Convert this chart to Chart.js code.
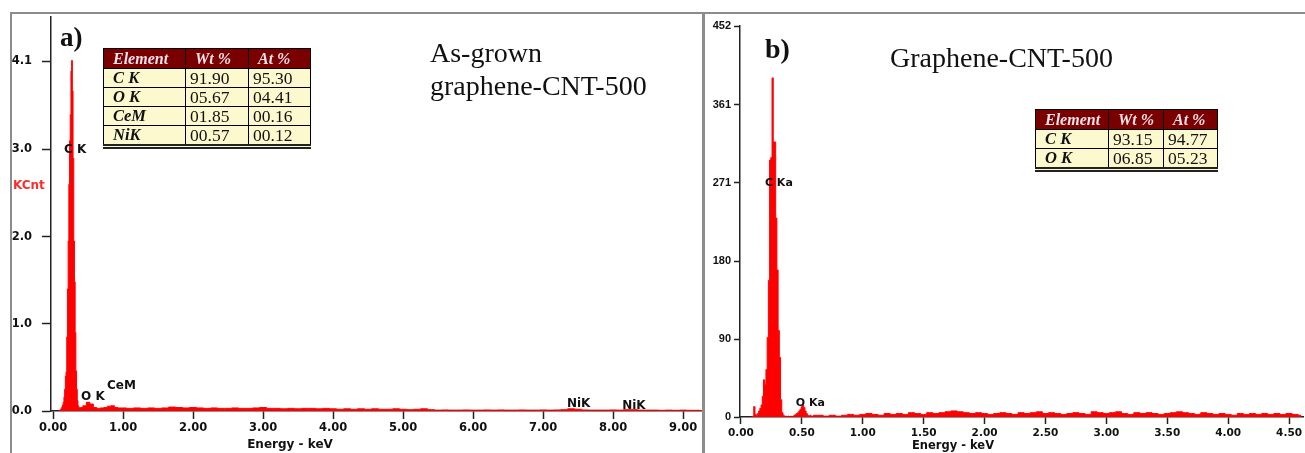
<!DOCTYPE html>
<html>
<head>
<meta charset="utf-8">
<script src="https://cdn.jsdelivr.net/npm/chart.js@4.4.1/dist/chart.umd.min.js"></script>
<style>
  body { margin:0; width:1305px; height:453px; background:#fff; position:relative; overflow:hidden; }
  canvas { position:absolute; top:0; }
  #chartA { left:0; }
  #chartB { left:703px; }
  .frame { position:absolute; border:0 solid #8c8c8c; }
  .txt { position:absolute; white-space:nowrap; }
  .serif { font-family:'Liberation Serif', 'Times New Roman', serif; color:#111; }
  .sans { font-family:'DejaVu Sans', sans-serif; font-weight:bold; }
  table.eds { position:absolute; border-collapse:collapse; table-layout:fixed; font-family:'Liberation Serif', serif; border:1px solid #000; border-bottom:5px double #222; }
  table.eds th { background:#7a0000; color:#f2e2ec; font-style:italic; font-weight:bold; font-size:16px; text-align:left; padding:0 0 0 9px; height:19px; line-height:19px; border:1px solid #000; }
  table.eds td { background:#fbf9cd; color:#111; font-size:17.5px; padding:0 0 0 4px; height:18px; line-height:18px; border:1px solid #000; }
  table.eds td.el { font-weight:bold; font-style:italic; font-size:16.5px; padding-left:9px; }
</style>
</head>
<body>
<canvas id="chartA" width="703" height="453"></canvas>
<canvas id="chartB" width="602" height="453"></canvas>

<div class="frame" style="left:10px;top:12px;width:692px;height:460px;border-top-width:2px;border-left-width:2px;"></div>
<div class="frame" style="left:702px;top:12px;width:610px;height:460px;border-top-width:2px;border-left-width:3px;"></div>

<div class="txt serif" style="left:60px;top:24px;font-size:27px;line-height:26px;font-weight:bold;">a)</div>
<div class="txt serif" style="left:430px;top:36px;font-size:28px;line-height:33px;">As-grown<br>graphene-CNT-500</div>
<div class="txt serif" style="left:765px;top:35px;font-size:28px;line-height:27px;font-weight:bold;">b)</div>
<div class="txt serif" style="left:890px;top:44px;font-size:28px;line-height:27px;">Graphene-CNT-500</div>

<div class="txt sans" style="left:13px;top:178px;font-size:12px;line-height:14px;color:#ff2b2b;">KCnt</div>
<div class="txt sans" style="left:190px;width:200px;text-align:center;top:437px;font-size:12px;line-height:14px;color:#111;">Energy - keV</div>
<div class="txt sans" style="left:853px;width:200px;text-align:center;top:438px;font-size:11.5px;line-height:14px;color:#111;">Energy - keV</div>

<table class="eds" style="left:103px;top:48px;width:207px;">
  <colgroup><col style="width:82px"><col style="width:63px"><col style="width:62px"></colgroup>
  <tr><th>Element</th><th>Wt %</th><th>At %</th></tr>
  <tr><td class="el">C K</td><td>91.90</td><td>95.30</td></tr>
  <tr><td class="el">O K</td><td>05.67</td><td>04.41</td></tr>
  <tr><td class="el">CeM</td><td>01.85</td><td>00.16</td></tr>
  <tr><td class="el">NiK</td><td>00.57</td><td>00.12</td></tr>
</table>

<table class="eds" style="left:1035px;top:109px;width:182px;">
  <colgroup><col style="width:73px"><col style="width:55px"><col style="width:54px"></colgroup>
  <tr><th>Element</th><th>Wt %</th><th>At %</th></tr>
  <tr><td class="el">C K</td><td>93.15</td><td>94.77</td></tr>
  <tr><td class="el">O K</td><td>06.85</td><td>05.23</td></tr>
</table>

<script>
// a) spectrum, KCnt vs keV
const leftPeakEnergy = [0.08,0.09,0.10,0.11,0.12,0.13,0.14,0.15,0.16,0.17,0.18,0.19,0.20,0.21,0.22,0.23,0.24,0.25,0.26,0.27,0.28,0.29,0.30,0.31,0.32,0.33,0.34,0.35,0.36,0.37,0.38,0.39];
const leftPeakCounts = [0,0.005,0.01,0.02,0.03,0.05,0.07,0.10,0.16,0.25,0.40,0.45,0.85,1.40,1.95,2.60,3.10,3.40,3.90,4.02,3.67,2.90,1.95,1.48,0.90,0.46,0.25,0.12,0.06,0.04,0.04,0.04];
const leftBaseEnergy = [0.40,0.45,0.50,0.55,0.60,0.65,0.70,0.75,0.80,0.85,0.90,0.95,
  1.0,1.1,1.2,1.3,1.4,1.5,1.6,1.7,1.8,1.9,2.0,2.1,2.2,2.3,2.4,2.5,2.6,2.7,2.8,2.9,
  3.0,3.1,3.2,3.3,3.4,3.5,3.6,3.7,3.8,3.9,4.0,4.1,4.2,4.3,4.4,4.5,4.6,4.7,4.8,4.9,
  5.0,5.1,5.2,5.3,5.4,5.5,5.6,5.7,5.8,5.9,6.0,6.1,6.2,6.3,6.4,6.5,6.6,6.7,6.8,6.9,
  7.0,7.1,7.2,7.3,7.4,7.5,7.6,7.7,7.8,7.9,8.0,8.1,8.2,8.3,8.4,8.5,8.6,8.7,8.8,8.9,
  9.0,9.1,9.2,9.3];
const leftBaseCounts = [0.04,0.06,0.10,0.08,0.04,0.03,0.035,0.04,0.055,0.06,0.04,0.035,
  0.035,0.03,0.035,0.03,0.035,0.03,0.035,0.045,0.04,0.035,0.04,0.035,0.03,0.035,0.03,0.03,0.035,0.03,0.03,0.035,
  0.04,0.03,0.03,0.025,0.03,0.025,0.03,0.03,0.025,0.03,0.025,0.02,0.025,0.02,0.025,0.02,0.025,0.02,0.02,0.025,
  0.02,0.015,0.02,0.025,0.015,0.01,0.012,0.01,0.01,0.012,0.01,0.01,0.012,0.01,0.012,0.01,0.01,0.012,0.01,0.01,
  0.012,0.01,0.012,0.015,0.025,0.02,0.012,0.01,0.01,0.01,0.012,0.01,0.015,0.015,0.01,0.01,0.01,0.008,0.01,0.008,
  0.01,0.008,0.008,0.005];
const leftXTicks = [0,1,2,3,4,5,6,7,8,9];
const leftYTicks = [0,1,2,3,4.01];
const leftYLabels = ['0.0','1.0','2.0','3.0','4.1'];
const leftLabelText = ['C K','O K','CeM','NiK','NiK'];
const leftLabelEnergy = [0.157,0.40,0.77,7.34,8.13];
const leftLabelValue = [3.0,0.16,0.29,0.08,0.057];

// b) spectrum, counts vs keV
const rightPeakEnergy = [0.08,0.09,0.10,0.11,0.12,0.13,0.14,0.15,0.16,0.17,0.18,0.19,0.20,0.21,0.22,0.23,0.24,0.25,0.26,0.27,
  0.28,0.29,0.30,0.31,0.32,0.33,0.34,0.35,0.36,0.37,0.38,0.39,0.40,0.41,0.42,0.43,0.44,0.45,0.46,0.47,
  0.48,0.49,0.50,0.51,0.52,0.53,0.54,0.55,0.56,0.57,0.58,0.59,0.60];
const rightPeakCounts = [0,0,1,12,3,2,4,7,10,14,24,43,38,55,92,158,297,300,392,318,
  318,230,170,100,69,20,5,2,0,1,0,1,0,1,0,1,2,3,4,5,
  7,9,12,14,11,7,4,2,1,2,1,1,2];
const rightBaseEnergy = [0.65,0.70,0.75,0.80,0.85,0.90,0.95,1.00,1.05,1.10,1.15,1.20,1.25,1.30,1.35,1.40,1.45,1.50,1.55,1.60,
  1.65,1.70,1.75,1.80,1.85,1.90,1.95,2.00,2.05,2.10,2.15,2.20,2.25,2.30,2.35,2.40,2.45,2.50,2.55,2.60,
  2.65,2.70,2.75,2.80,2.85,2.90,2.95,3.00,3.05,3.10,3.15,3.20,3.25,3.30,3.35,3.40,3.45,3.50,3.55,3.60,
  3.65,3.70,3.75,3.80,3.85,3.90,3.95,4.00,4.05,4.10,4.15,4.20,4.25,4.30,4.35,4.40,4.45,4.50,4.55,4.60];
const rightBaseCounts = [2,1,2,1,2,3,2,3,4,3,2,4,3,4,3,5,4,3,5,4,
  5,6,7,6,5,4,5,4,3,4,5,4,3,5,4,5,6,4,5,4,
  3,4,5,4,3,6,5,4,5,6,4,3,5,4,5,4,3,4,5,6,
  5,4,3,5,4,3,4,3,2,4,3,4,3,4,3,4,3,4,3,2];
const rightXTicks = [0,0.5,1,1.5,2,2.5,3,3.5,4,4.5];
const rightYTicks = [0,90,180,271,361,452];
const rightLabelText = ['C Ka','O Ka'];
const rightLabelEnergy = [0.197,0.45];
const rightLabelValue = [270,16];

function toPoints(energy, counts) {
  return energy.map((e, i) => ({ x: e, y: counts[i] }));
}

// peak names drawn at their energy / height
const peakLabels = {
  id: 'peakLabels',
  afterDatasetsDraw(chart, args, opts) {
    const ctx = chart.ctx;
    const x = chart.scales.x, y = chart.scales.y;
    ctx.save();
    ctx.font = 'bold ' + opts.size + 'px "DejaVu Sans", sans-serif';
    ctx.fillStyle = '#111';
    ctx.textBaseline = 'middle';
    ctx.textAlign = 'left';
    opts.text.forEach((t, i) => {
      ctx.fillText(t, x.getPixelForValue(opts.energy[i]), y.getPixelForValue(opts.value[i]));
    });
    ctx.restore();
  }
};

const tickFont = (size, family) => ({ family: family || 'DejaVu Sans', size: size, weight: 'bold' });

function spectrumDataset(points) {
  return {
    data: points,
    borderColor: '#ff0000',
    backgroundColor: '#ff0000',
    borderWidth: 1,
    pointRadius: 0,
    fill: 'origin',
    stepped: 'middle'
  };
}

new Chart(document.getElementById('chartA'), {
  type: 'line',
  data: { datasets: [spectrumDataset(toPoints(leftPeakEnergy, leftPeakCounts).concat(toPoints(leftBaseEnergy, leftBaseCounts)))] },
  options: {
    responsive: false,
    animation: false,
    events: [],
    layout: { padding: { top: 12, right: 1, left: 0, bottom: 0 } },
    plugins: {
      legend: { display: false },
      tooltip: { enabled: false },
      peakLabels: { text: leftLabelText, energy: leftLabelEnergy, value: leftLabelValue, size: 12 }
    },
    scales: {
      x: {
        type: 'linear', min: -0.03, max: 9.27,
        afterFit: s => { s.height = 42; },
        afterBuildTicks: s => { s.ticks = leftXTicks.map(v => ({ value: v })); },
        ticks: { autoSkip: false, maxRotation: 0, padding: 2, color: '#111', font: tickFont(11.5), callback: v => v.toFixed(2) },
        grid: { drawOnChartArea: false, tickLength: 8, tickColor: '#222', tickWidth: 1.5 },
        border: { color: '#222', width: 1.5 }
      },
      y: {
        type: 'linear', min: 0, max: 4.52,
        afterFit: s => { s.width = 51; },
        afterBuildTicks: s => { s.ticks = leftYTicks.map(v => ({ value: v })); },
        ticks: { autoSkip: false, padding: 10, color: '#111', font: tickFont(11.5), callback: (v, i) => leftYLabels[i] },
        grid: { drawOnChartArea: false, tickLength: 9, tickColor: '#222', tickWidth: 1.5 },
        border: { color: '#222', width: 1.5 }
      }
    }
  },
  plugins: [peakLabels]
});

new Chart(document.getElementById('chartB'), {
  type: 'line',
  data: { datasets: [spectrumDataset(toPoints(rightPeakEnergy, rightPeakCounts).concat(toPoints(rightBaseEnergy, rightBaseCounts)))] },
  options: {
    responsive: false,
    animation: false,
    events: [],
    layout: { padding: { top: 26, right: 0, left: 0, bottom: 0 } },
    plugins: {
      legend: { display: false },
      tooltip: { enabled: false },
      peakLabels: { text: rightLabelText, energy: rightLabelEnergy, value: rightLabelValue, size: 11 }
    },
    scales: {
      x: {
        type: 'linear', min: -0.008, max: 4.615,
        afterFit: s => { s.height = 36; },
        afterBuildTicks: s => { s.ticks = rightXTicks.map(v => ({ value: v })); },
        ticks: { autoSkip: false, maxRotation: 0, padding: 3, color: '#111', font: tickFont(10.5), callback: v => v.toFixed(2) },
        grid: { drawOnChartArea: false, tickLength: 7, tickColor: '#222', tickWidth: 1.5 },
        border: { color: '#222', width: 1.5 }
      },
      y: {
        type: 'linear', min: 0, max: 452,
        afterFit: s => { s.width = 37; },
        afterBuildTicks: s => { s.ticks = rightYTicks.map(v => ({ value: v })); },
        ticks: { autoSkip: false, padding: 3, color: '#111', font: tickFont(11, "'Liberation Sans', Arial"), callback: v => String(v) },
        grid: { drawOnChartArea: false, tickLength: 6, tickColor: '#222', tickWidth: 1.5 },
        border: { color: '#222', width: 1.5 }
      }
    }
  },
  plugins: [peakLabels]
});
</script>
</body>
</html>
